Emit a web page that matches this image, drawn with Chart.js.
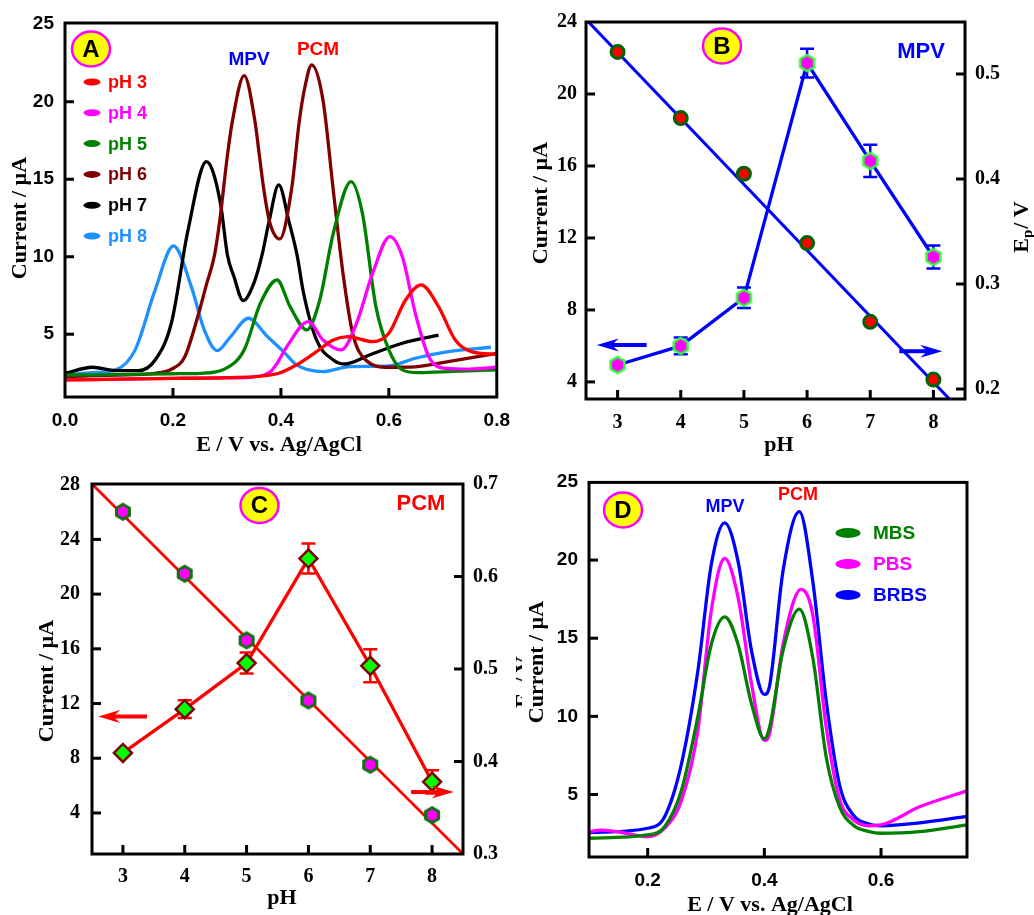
<!DOCTYPE html>
<html lang="en">
<head>
<meta charset="UTF-8">
<title>Effect of pH and supporting electrolyte on MPV / PCM</title>
<style>
  html, body { margin: 0; padding: 0; background: #fff; }
  body { position: relative; width: 1034px; height: 915px; overflow: hidden; }
  canvas { position: absolute; }
</style>
</head>
<body>
<canvas id="chartA" width="522" height="458" style="left:0;top:0"></canvas>
<canvas id="chartB" width="524" height="458" style="left:510px;top:0"></canvas>
<canvas id="chartC" width="522" height="455" style="left:0;top:460px"></canvas>
<canvas id="chartD" width="524" height="455" style="left:510px;top:460px"></canvas>

<script src="https://cdn.jsdelivr.net/npm/chart.js@4.4.1/dist/chart.umd.min.js"></script>
<script>
// ---- A: DPV curves at different pH (E / V, I / uA) ----
const aPh3E = [0.0, 0.1, 0.2, 0.3, 0.393, 0.429, 0.466, 0.497, 0.524, 0.57, 0.6, 0.631, 0.66, 0.692, 0.723, 0.753, 0.8];
const aPh3I = [2.05, 2.1, 2.15, 2.2, 2.45, 3.02, 3.88, 4.63, 4.85, 4.52, 5.06, 7.21, 8.18, 6.78, 4.63, 3.88, 3.7];
const aPh4E = [0.0, 0.1, 0.2, 0.3, 0.35, 0.381, 0.393, 0.411, 0.451, 0.478, 0.512, 0.54, 0.57, 0.602, 0.625, 0.649, 0.674, 0.705, 0.75, 0.8];
const aPh4I = [2.05, 2.1, 2.15, 2.18, 2.25, 2.6, 3.13, 4.2, 5.81, 4.63, 3.99, 5.7, 8.94, 11.3, 10.0, 6.35, 3.55, 2.8, 2.75, 2.87];
const aPh5E = [0.0, 0.1, 0.2, 0.252, 0.295, 0.332, 0.362, 0.393, 0.417, 0.448, 0.472, 0.497, 0.53, 0.551, 0.576, 0.6, 0.625, 0.655, 0.72, 0.8];
const aPh5I = [2.37, 2.4, 2.45, 2.48, 2.74, 3.99, 7.0, 8.5, 6.78, 5.28, 7.21, 11.5, 14.85, 12.8, 6.78, 3.99, 2.7, 2.52, 2.6, 2.7];
const aPh6E = [0.0, 0.094, 0.167, 0.197, 0.222, 0.246, 0.262, 0.277, 0.287, 0.301, 0.31, 0.332, 0.352, 0.36, 0.368, 0.379, 0.398, 0.42, 0.434, 0.444, 0.457, 0.478, 0.497, 0.515, 0.533, 0.557, 0.6, 0.649, 0.71, 0.8];
const aPh6I = [2.26, 2.37, 2.48, 2.74, 3.55, 6.14, 8.2, 10.1, 12.4, 16.57, 18.72, 21.68, 18.72, 16.57, 14.42, 12.26, 11.15, 14.42, 18.72, 20.87, 22.37, 20.1, 14.3, 8.94, 5.06, 3.34, 2.87, 2.9, 3.23, 3.77];
const aPh7E = [0.0, 0.051, 0.094, 0.136, 0.167, 0.197, 0.228, 0.262, 0.274, 0.289, 0.301, 0.313, 0.33, 0.35, 0.365, 0.378, 0.396, 0.415, 0.43, 0.442, 0.466, 0.497, 0.518, 0.564, 0.625, 0.692];
const aPh7I = [2.48, 2.87, 2.65, 2.65, 3.34, 5.71, 11.73, 16.14, 15.5, 13.23, 10.1, 8.72, 7.17, 8.3, 10.1, 12.26, 14.63, 12.26, 10.1, 7.65, 4.63, 3.34, 3.08, 3.66, 4.42, 4.94];
const aPh8E = [0.0, 0.051, 0.094, 0.13, 0.167, 0.201, 0.234, 0.258, 0.282, 0.307, 0.34, 0.375, 0.405, 0.429, 0.478, 0.527, 0.6, 0.649, 0.71, 0.789];
const aPh8I = [2.37, 2.52, 2.7, 3.99, 7.86, 10.7, 8.07, 5.28, 3.94, 4.85, 6.03, 4.85, 3.88, 3.02, 2.59, 2.91, 2.95, 3.45, 3.88, 4.16];
const aETicks = [0.0, 0.2, 0.4, 0.6, 0.8];
const aITicks = [5, 10, 15, 20, 25];

// ---- B: MPV peak current and peak potential vs pH ----
const phLevels = [3, 4, 5, 6, 7, 8];
const mpvCurrent = [4.94, 6.0, 8.67, 21.72, 16.28, 10.94];
const mpvCurrentErr = [0.15, 0.47, 0.57, 0.8, 0.9, 0.64];
const mpvEp = [0.521, 0.458, 0.405, 0.339, 0.264, 0.209];
const mpvFitPh = [2.5, 8.5];
const mpvFitEp = [0.552, 0.175];

// ---- C: PCM peak current and peak potential vs pH ----
const pcmCurrent = [8.39, 11.59, 14.96, 22.6, 14.76, 6.28];
const pcmCurrentErr = [0.15, 0.65, 0.77, 1.1, 1.2, 0.85];
const pcmEp = [0.670, 0.603, 0.531, 0.466, 0.3965, 0.342];
const pcmFitPh = [2.5, 8.5];
const pcmFitEp = [0.7, 0.3];

const phTicks = [3, 4, 5, 6, 7, 8];
const bCurrentTicks = [4, 8, 12, 16, 20, 24];
const bEpTicks = [0.2, 0.3, 0.4, 0.5];
const cCurrentTicks = [4, 8, 12, 16, 20, 24, 28];
const cEpTicks = [0.3, 0.4, 0.5, 0.6, 0.7];

// ---- D: DPV curves in different buffers ----
const mbsE = [0.099, 0.2, 0.229, 0.258, 0.286, 0.309, 0.332, 0.355, 0.378, 0.4, 0.409, 0.432, 0.46, 0.483, 0.506, 0.529, 0.552, 0.58, 0.6, 0.666, 0.747];
const mbsI = [2.2, 2.41, 2.94, 5.28, 9.99, 14.6, 16.37, 14.6, 10.8, 8.57, 9.31, 14.2, 16.86, 13.77, 7.4, 4.2, 3.05, 2.62, 2.52, 2.62, 3.05];
const pbsE = [0.099, 0.12, 0.15, 0.2, 0.229, 0.258, 0.286, 0.309, 0.332, 0.355, 0.378, 0.4, 0.409, 0.432, 0.463, 0.483, 0.506, 0.529, 0.552, 0.58, 0.6, 0.666, 0.747];
const pbsI = [2.62, 2.72, 2.6, 2.3, 2.84, 4.64, 9.1, 16.75, 20.1, 17.6, 12.07, 8.46, 8.9, 14.6, 18.13, 16.5, 9.31, 4.7, 3.4, 3.0, 3.05, 4.21, 5.23];
const brbsE = [0.099, 0.2, 0.229, 0.258, 0.286, 0.309, 0.332, 0.355, 0.378, 0.4, 0.409, 0.432, 0.46, 0.483, 0.506, 0.529, 0.552, 0.58, 0.6, 0.666, 0.747];
const brbsI = [2.56, 2.84, 3.58, 6.98, 12.9, 19.7, 22.38, 19.9, 14.2, 11.4, 11.96, 19.3, 23.1, 18.66, 11.0, 5.6, 3.7, 3.1, 3.0, 3.19, 3.6];
const dETicks = [0.2, 0.4, 0.6];
const dITicks = [5, 10, 15, 20, 25];

const SANS = "'Liberation Sans', Arial, Helvetica, sans-serif";
const SERIF = "'Liberation Serif', 'Times New Roman', Times, serif";

Chart.defaults.animation = false;
Chart.defaults.color = '#000';

function pairs(xs, ys) {
    return xs.map((x, i) => ({ x: x, y: ys[i] }));
}

function hexMarker(fill, stroke, r, lw) {
    const s = Math.ceil(2 * r + lw + 2);
    const c = document.createElement('canvas');
    c.width = s; c.height = s;
    const g = c.getContext('2d');
    g.beginPath();
    for (let k = 0; k < 6; k++) {
        const t = -Math.PI / 2 + k * Math.PI / 3;
        const px = s / 2 + r * Math.cos(t), py = s / 2 + r * Math.sin(t);
        if (k === 0) g.moveTo(px, py); else g.lineTo(px, py);
    }
    g.closePath();
    g.fillStyle = fill; g.fill();
    g.lineWidth = lw; g.strokeStyle = stroke; g.stroke();
    return c;
}

function axis(o) {
    return {
        type: 'linear',
        position: o.position,
        min: o.min,
        max: o.max,
        grid: { display: false, drawTicks: false },
        border: { display: false },
        afterBuildTicks: s => { s.ticks = o.ticks.map(v => ({ value: v })); },
        afterFit: s => {
            if (o.width != null) s.width = o.width;
            if (o.height != null) s.height = o.height;
        },
        ticks: {
            color: '#000',
            font: o.font,
            padding: o.pad,
            maxRotation: 0,
            autoSkip: false,
            callback: o.fmt || (v => String(v))
        }
    };
}

function curve(label, color, xs, ys) {
    return {
        label: label,
        data: pairs(xs, ys),
        borderColor: color,
        backgroundColor: color,
        borderWidth: 3.3,
        pointRadius: 0,
        cubicInterpolationMode: 'monotone',
        fill: false,
        clip: 0
    };
}

// --- drawing helpers for the decorations around each panel ---
function text(ctx, t) {
    ctx.save();
    ctx.translate(t.x, t.y);
    if (t.rot) ctx.rotate(t.rot);
    ctx.font = t.font;
    ctx.fillStyle = t.color || '#000';
    ctx.textAlign = 'center';
    ctx.textBaseline = 'middle';
    ctx.fillText(t.text, 0, 0);
    ctx.restore();
}

function epTitle(ctx, x, y) {
    const big = 'bold 22px ' + SERIF, small = 'bold 15px ' + SERIF;
    ctx.save();
    ctx.translate(x, y);
    ctx.rotate(-Math.PI / 2);
    ctx.fillStyle = '#000';
    ctx.textAlign = 'left';
    ctx.textBaseline = 'middle';
    ctx.font = big;
    const wE = ctx.measureText('E').width, wR = ctx.measureText('/ V').width;
    ctx.font = small;
    const wp = ctx.measureText('p').width;
    let x0 = -(wE + wp + 1 + wR) / 2;
    ctx.font = big; ctx.fillText('E', x0, 0);
    ctx.font = small; ctx.fillText('p', x0 + wE, 6);
    ctx.font = big; ctx.fillText('/ V', x0 + wE + wp + 1, 0);
    ctx.restore();
}

function badge(ctx, b) {
    ctx.save();
    ctx.beginPath();
    ctx.ellipse(b.x, b.y, 19, 17.5, 0, 0, Math.PI * 2);
    ctx.fillStyle = '#ffff00';
    ctx.fill();
    ctx.lineWidth = 2.5;
    ctx.strokeStyle = '#ff00ff';
    ctx.stroke();
    ctx.fillStyle = '#000';
    ctx.font = 'bold 24px ' + SANS;
    ctx.textAlign = 'center';
    ctx.textBaseline = 'middle';
    ctx.fillText(b.letter, b.x, b.y + 1);
    ctx.restore();
}

function arrow(ctx, chart, ar) {
    const xs = chart.scales.x, ys = chart.scales[ar.axis];
    const x1 = xs.getPixelForValue(ar.from), x2 = xs.getPixelForValue(ar.to);
    const y = ys.getPixelForValue(ar.at);
    const dir = Math.sign(x2 - x1);
    ctx.save();
    ctx.strokeStyle = ar.color;
    ctx.fillStyle = ar.color;
    ctx.lineWidth = 4;
    ctx.beginPath();
    ctx.moveTo(x1, y);
    ctx.lineTo(x2 - dir * 12, y);
    ctx.stroke();
    ctx.beginPath();
    ctx.moveTo(x2, y);
    ctx.lineTo(x2 - dir * 22, y - 6.5);
    ctx.lineTo(x2 - dir * 15, y);
    ctx.lineTo(x2 - dir * 22, y + 6.5);
    ctx.closePath();
    ctx.fill();
    ctx.restore();
}

function errorBars(chart, eb) {
    const ctx = chart.ctx, xs = chart.scales.x, ys = chart.scales[eb.axis];
    ctx.save();
    ctx.strokeStyle = eb.color;
    ctx.lineWidth = 2.5;
    eb.xs.forEach((xv, i) => {
        const px = xs.getPixelForValue(xv);
        const top = ys.getPixelForValue(eb.ys[i] + eb.err[i]);
        const bot = ys.getPixelForValue(eb.ys[i] - eb.err[i]);
        ctx.beginPath();
        ctx.moveTo(px, top); ctx.lineTo(px, bot);
        ctx.moveTo(px - 7, top); ctx.lineTo(px + 7, top);
        ctx.moveTo(px - 7, bot); ctx.lineTo(px + 7, bot);
        ctx.stroke();
    });
    ctx.restore();
}

function innerTicks(chart) {
    const ctx = chart.ctx, a = chart.chartArea, len = 9;
    ctx.save();
    ctx.strokeStyle = '#000';
    ctx.lineWidth = 3;
    Object.values(chart.scales).forEach(s => {
        s.ticks.forEach(t => {
            const p = s.getPixelForValue(t.value);
            ctx.beginPath();
            if (s.isHorizontal()) {
                if (p < a.left + 4 || p > a.right - 4) return;
                ctx.moveTo(p, a.bottom); ctx.lineTo(p, a.bottom - len);
            } else {
                if (p < a.top + 4 || p > a.bottom - 4) return;
                if (s.position === 'right') { ctx.moveTo(a.right, p); ctx.lineTo(a.right - len, p); }
                else { ctx.moveTo(a.left, p); ctx.lineTo(a.left + len, p); }
            }
            ctx.stroke();
        });
    });
    ctx.restore();
}

function legendBox(chart, lg) {
    const ctx = chart.ctx;
    chart.data.datasets.forEach((ds, i) => {
        const y = lg.y + i * lg.dy;
        ctx.save();
        ctx.beginPath();
        ctx.ellipse(lg.x, y, lg.mw / 2, lg.mh / 2, 0, 0, Math.PI * 2);
        ctx.fillStyle = ds.borderColor;
        ctx.fill();
        ctx.font = lg.font;
        ctx.textAlign = 'left';
        ctx.textBaseline = 'middle';
        ctx.fillText(ds.label, lg.tx, y + 1);
        ctx.restore();
    });
}

function decor(cfg) {
    return {
        id: 'panelDecor',
        beforeDatasetsDraw(chart) {
            (cfg.errorBars || []).forEach(eb => errorBars(chart, eb));
        },
        afterDraw(chart) {
            const ctx = chart.ctx, a = chart.chartArea;
            ctx.save();
            ctx.lineWidth = 3;
            ctx.strokeStyle = '#000';
            ctx.strokeRect(a.left, a.top, a.right - a.left, a.bottom - a.top);
            ctx.restore();
            innerTicks(chart);
            (cfg.texts || []).forEach(t => text(ctx, t));
            (cfg.ep || []).forEach(p => epTitle(ctx, p.x, p.y));
            (cfg.arrows || []).forEach(ar => arrow(ctx, chart, ar));
            if (cfg.legend) legendBox(chart, cfg.legend);
            if (cfg.badge) badge(ctx, cfg.badge);
        }
    };
}

const sansTick = { family: SANS, size: 19, weight: 'bold' };
const serifTick = { family: SERIF, size: 20, weight: 'bold' };
const titleFont = 'bold 22px ' + SERIF;
const fix1 = v => v.toFixed(1);

// ---------- Panel A ----------
new Chart('chartA', {
    type: 'line',
    data: {
        datasets: [
            curve('pH 3', '#ff0000', aPh3E, aPh3I),
            curve('pH 4', '#ff00ff', aPh4E, aPh4I),
            curve('pH 5', '#008000', aPh5E, aPh5I),
            curve('pH 6', '#800000', aPh6E, aPh6I),
            curve('pH 7', '#000000', aPh7E, aPh7I),
            curve('pH 8', '#1e90ff', aPh8E, aPh8I)
        ]
    },
    options: {
        responsive: false,
        layout: { autoPadding: false, padding: { top: 23, right: 20, left: 0, bottom: 0 } },
        plugins: { legend: { display: false }, tooltip: { enabled: false } },
        scales: {
            x: axis({ position: 'bottom', min: 0, max: 0.8, ticks: aETicks, height: 61, font: sansTick, pad: 12, fmt: fix1 }),
            y: axis({ position: 'left', min: 0.95, max: 25.08, ticks: aITicks, width: 65, font: sansTick, pad: 11 })
        }
    },
    plugins: [decor({
        texts: [
            { text: 'Current / \u00b5A', x: 20, y: 218, rot: -Math.PI / 2, font: titleFont },
            { text: 'E / V vs. Ag/AgCl', x: 279, y: 445, font: titleFont },
            { text: 'MPV', x: 249, y: 60, font: 'bold 19px ' + SANS, color: '#0000ff' },
            { text: 'PCM', x: 318, y: 50, font: 'bold 19px ' + SANS, color: '#ff0000' }
        ],
        legend: { x: 92, y: 82, dy: 30.8, mw: 17, mh: 7, tx: 108, font: 'bold 18px ' + SANS },
        badge: { letter: 'A', x: 91, y: 49 }
    })]
});

// ---------- Panel B ----------
new Chart('chartB', {
    type: 'line',
    data: {
        datasets: [
            {
                label: 'MPV current',
                data: pairs(phLevels, mpvCurrent),
                yAxisID: 'y',
                borderColor: '#0000ff',
                borderWidth: 3.3,
                tension: 0,
                pointStyle: hexMarker('#ff00ff', '#33ff33', 8, 2.5),
                pointRadius: 9
            },
            {
                label: 'MPV Ep',
                data: pairs(phLevels, mpvEp),
                yAxisID: 'y2',
                showLine: false,
                pointStyle: 'circle',
                pointRadius: 6.5,
                pointBorderWidth: 3,
                pointBackgroundColor: '#ff0000',
                pointBorderColor: '#006400'
            },
            {
                label: 'MPV Ep fit',
                data: pairs(mpvFitPh, mpvFitEp),
                yAxisID: 'y2',
                borderColor: '#0000ff',
                borderWidth: 3,
                pointRadius: 0,
                clip: 0
            }
        ]
    },
    options: {
        responsive: false,
        layout: { autoPadding: false, padding: { top: 22, right: 0, left: 0, bottom: 0 } },
        plugins: { legend: { display: false }, tooltip: { enabled: false } },
        scales: {
            x: axis({ position: 'bottom', min: 2.5, max: 8.5, ticks: phTicks, height: 59, font: serifTick, pad: 12 }),
            y: axis({ position: 'left', min: 3.05, max: 24, ticks: bCurrentTicks, width: 76, font: serifTick, pad: 9 }),
            y2: axis({ position: 'right', min: 0.1905, max: 0.5495, ticks: bEpTicks, width: 69, font: serifTick, pad: 10, fmt: fix1 })
        }
    },
    plugins: [decor({
        errorBars: [{ xs: phLevels, ys: mpvCurrent, err: mpvCurrentErr, axis: 'y', color: '#0000ff' }],
        texts: [
            { text: 'Current / \u00b5A', x: 31, y: 203, rot: -Math.PI / 2, font: titleFont },
            { text: 'pH', x: 269, y: 445, font: titleFont },
            { text: 'MPV', x: 411, y: 52, font: 'bold 22px ' + SANS, color: '#0000ff' }
        ],
        ep: [{ x: 512, y: 227 }],
        arrows: [
            { axis: 'y', at: 6.05, from: 3.46, to: 2.67, color: '#0000ff' },
            { axis: 'y2', at: 0.236, from: 7.46, to: 8.14, color: '#0000ff' }
        ],
        badge: { letter: 'B', x: 212, y: 46 }
    })]
});

// ---------- Panel C ----------
new Chart('chartC', {
    type: 'line',
    data: {
        datasets: [
            {
                label: 'PCM current',
                data: pairs(phLevels, pcmCurrent),
                yAxisID: 'y',
                borderColor: '#ff0000',
                borderWidth: 3.3,
                tension: 0,
                pointStyle: 'rectRot',
                pointRadius: 9,
                pointBorderWidth: 2.5,
                pointBackgroundColor: '#00ff00',
                pointBorderColor: '#800000'
            },
            {
                label: 'PCM Ep',
                data: pairs(phLevels, pcmEp),
                yAxisID: 'y2',
                showLine: false,
                pointStyle: hexMarker('#ff00ff', '#107010', 7.5, 3),
                pointRadius: 9
            },
            {
                label: 'PCM Ep fit',
                data: pairs(pcmFitPh, pcmFitEp),
                yAxisID: 'y2',
                borderColor: '#ff0000',
                borderWidth: 2.7,
                pointRadius: 0,
                clip: 0
            }
        ]
    },
    options: {
        responsive: false,
        layout: { autoPadding: false, padding: { top: 22, right: 0, left: 0, bottom: 0 } },
        plugins: { legend: { display: false }, tooltip: { enabled: false } },
        scales: {
            x: axis({ position: 'bottom', min: 2.5, max: 8.5, ticks: phTicks, height: 61, font: serifTick, pad: 11 }),
            y: axis({ position: 'left', min: 1.0, max: 28.05, ticks: cCurrentTicks, width: 92, font: serifTick, pad: 12 }),
            y2: axis({ position: 'right', min: 0.3, max: 0.7, ticks: cEpTicks, width: 59, font: serifTick, pad: 10, fmt: fix1 })
        }
    },
    plugins: [decor({
        errorBars: [{ xs: phLevels, ys: pcmCurrent, err: pcmCurrentErr, axis: 'y', color: '#ff0000' }],
        texts: [
            { text: 'Current / \u00b5A', x: 47, y: 221, rot: -Math.PI / 2, font: titleFont },
            { text: 'pH', x: 282, y: 438, font: titleFont },
            { text: 'PCM', x: 421, y: 44, font: 'bold 22px ' + SANS, color: '#ff0000' }
        ],
        ep: [{ x: 524, y: 222 }],
        arrows: [
            { axis: 'y', at: 11.05, from: 3.39, to: 2.6, color: '#ff0000' },
            { axis: 'y', at: 5.53, from: 7.66, to: 8.35, color: '#ff0000' }
        ],
        badge: { letter: 'C', x: 259.5, y: 45.5 }
    })]
});

// ---------- Panel D ----------
new Chart('chartD', {
    type: 'line',
    data: {
        datasets: [
            curve('MBS', '#008000', mbsE, mbsI),
            curve('PBS', '#ff00ff', pbsE, pbsI),
            curve('BRBS', '#0000ff', brbsE, brbsI)
        ]
    },
    options: {
        responsive: false,
        layout: { autoPadding: false, padding: { top: 21, right: 67, left: 0, bottom: 0 } },
        plugins: { legend: { display: false }, tooltip: { enabled: false } },
        scales: {
            x: axis({ position: 'bottom', min: 0.0994, max: 0.7474, ticks: dETicks, height: 58, font: sansTick, pad: 12, fmt: fix1 }),
            y: axis({ position: 'left', min: 1.0, max: 24.97, ticks: dITicks, width: 79, font: sansTick, pad: 11 })
        }
    },
    plugins: [decor({
        texts: [
            { text: 'Current / \u00b5A', x: 27, y: 202, rot: -Math.PI / 2, font: titleFont },
            { text: 'E / V vs. Ag/AgCl', x: 260, y: 445, font: titleFont },
            { text: 'MPV', x: 215, y: 47, font: 'bold 18px ' + SANS, color: '#0000ff' },
            { text: 'PCM', x: 288, y: 35, font: 'bold 18px ' + SANS, color: '#ff0000' }
        ],
        legend: { x: 338, y: 73, dy: 31, mw: 25, mh: 10, tx: 363, font: 'bold 19px ' + SANS },
        badge: { letter: 'D', x: 113, y: 50 }
    })]
});
</script>
</body>
</html>
